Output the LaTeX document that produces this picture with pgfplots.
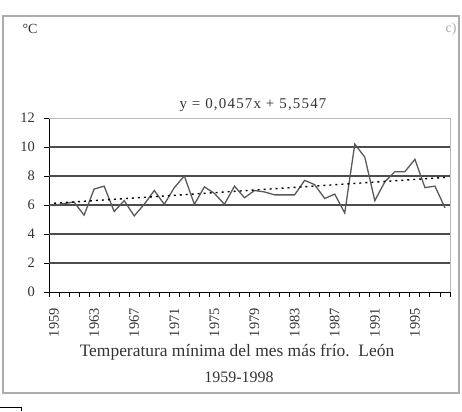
\documentclass[border=0pt]{standalone}
\usepackage{pgfplots}
\pgfplotsset{compat=1.18}
\usepackage{fontspec}
\setmainfont{Liberation Serif}
\definecolor{txt}{gray}{0.2}
\pgfplotstableread{
year val
1959 5.95
1960 6.1
1961 6.2
1962 5.3
1963 7.1
1964 7.3
1965 5.55
1966 6.3
1967 5.25
1968 6.05
1969 7.0
1970 6.05
1971 7.2
1972 8.0
1973 6.05
1974 7.25
1975 6.8
1976 6.05
1977 7.3
1978 6.5
1979 7.0
1980 6.9
1981 6.7
1982 6.7
1983 6.7
1984 7.7
1985 7.4
1986 6.45
1987 6.75
1988 5.45
1989 10.2
1990 9.3
1991 6.3
1992 7.6
1993 8.3
1994 8.3
1995 9.15
1996 7.2
1997 7.3
1998 5.8
}\tempdata
\begin{document}
\begin{tikzpicture}[x=1bp,y=1bp]
\useasboundingbox (0,0) rectangle (462,411);
\draw[gray!65, line width=1.8bp] (3,18) rectangle (459,395);
\draw[black, line width=1.2bp] (0,3.3) -- (21.7,3.3) -- (21.7,0);
\node[text=txt, font=\fontsize{14}{16}\selectfont] at (30,382) {°C};
\node[text=gray!65, font=\fontsize{14}{16}\selectfont] at (451,382) {c)};
\node[text=txt, font=\fontsize{15}{17}\selectfont\addfontfeatures{LetterSpace=8}] at (253,306) {y = 0,0457x + 5,5547};
\node[text=txt, font=\fontsize{17.5}{19}\selectfont] at (237,59) {Temperatura mínima del mes más frío.\ \ León};
\node[text=txt, font=\fontsize{16}{18}\selectfont] at (239,34) {1959-1998};
\begin{axis}[at={(49bp,119bp)}, anchor=south west, scale only axis,
  width=401bp, height=174bp,
  xmin=1958.5, xmax=1998.5, ymin=0, ymax=12,
  axis x line*=bottom, axis y line*=left,
  axis line style={black, line width=1bp},
  /pgf/number format/assume math mode=true,
  ytick={0,2,...,12},
  xtick={1958.5,1959.5,...,1998.5},
  x tick label as interval,
  xticklabels={1959,,,,1963,,,,1967,,,,1971,,,,1975,,,,1979,,,,1983,,,,1987,,,,1991,,,,1995,,,},
  tick align=outside, major tick length=5bp,
  tick style={black, line width=0.9bp},
  ticklabel style={text=txt, font=\fontsize{14.5}{16}\selectfont},
  xticklabel style={rotate=90, anchor=east, inner sep=1pt},
  yticklabel style={inner sep=1pt},
  xticklabel shift=10bp,
  yticklabel shift=8bp,
  extra y ticks={2,4,6,8,10},
  extra y tick labels={},
  extra y tick style={grid=major, major grid style={gray!60!black, line width=1.7bp}},
  clip=false,
]
\draw[gray!55, line width=1bp] (rel axis cs:0,1) -- (rel axis cs:1,1) -- (rel axis cs:1,0);
\addplot[gray!70!black, line width=1.3bp, no marks] table[x=year, y=val] {\tempdata};
\addplot[black, line width=1.4bp, dash pattern=on 2bp off 4bp, no marks] coordinates {(1959,6.12) (1998,7.9)};
\end{axis}
\end{tikzpicture}
\end{document}
